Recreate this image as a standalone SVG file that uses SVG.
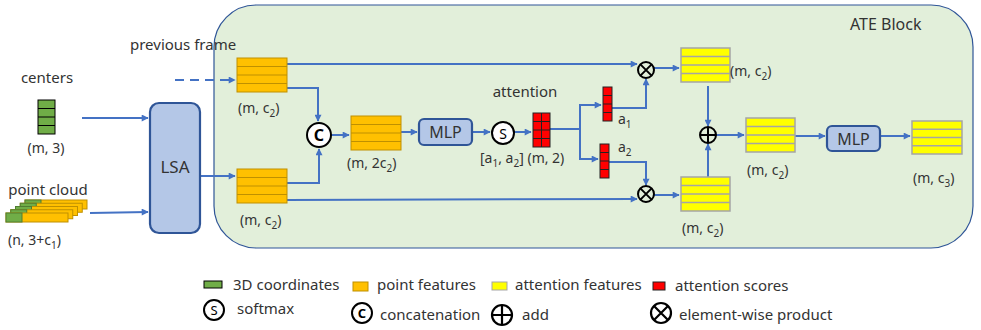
<svg xmlns="http://www.w3.org/2000/svg" xmlns:xlink="http://www.w3.org/1999/xlink" width="981" height="330" viewBox="0 0 981 330">
<style>
text{font-family:"Noto Sans","Liberation Sans",sans-serif;fill:#333;}
.lb{font-size:14px;}
.lg{font-size:15px;}
.sub{font-size:10px;}
.conn{fill:none;stroke:#4472c4;stroke-width:2;}
.box{fill:#b4c7e7;stroke:#2f5597;stroke-width:2.2;}
.op{fill:#fff;stroke:#000;stroke-width:2;}
.ln{stroke-width:1;}
</style>
<defs>
<marker id="ah" viewBox="0 0 10 10" refX="9" refY="5" markerWidth="8" markerHeight="7" markerUnits="userSpaceOnUse" orient="auto">
<path d="M0 0 L10 5 L0 10 z" fill="#4472c4"/>
</marker>
<g id="ob">
<rect x="0" y="0" width="50" height="34" fill="#ffc000" stroke="#bf9000"/>
<path d="M0 8.5H50M0 17H50M0 25.5H50" stroke="#bf9000"/>
</g>
<g id="yb">
<rect x="0" y="0" width="49" height="34" fill="#ffff00" stroke="#a5a5a5" stroke-width="1.5"/>
<path d="M0 8.5H49M0 17H49M0 25.5H49" stroke="#a5a5a5" stroke-width="1.5"/>
</g>
<g id="rc">
<rect x="0" y="0" width="9" height="34" fill="#ff0000" stroke="#222"/>
<path d="M0 8.5H9M0 17H9M0 25.5H9" stroke="#222"/>
</g>
<g id="otimes">
<circle r="8" fill="none" stroke="#000" stroke-width="2"/>
<path d="M-5.6 -5.6L5.6 5.6M5.6 -5.6L-5.6 5.6" stroke="#000" stroke-width="2"/>
</g>
<g id="oplus">
<circle r="8" fill="none" stroke="#000" stroke-width="2"/>
<path d="M-8 0H8M0 -8V8" stroke="#000" stroke-width="2"/>
</g>
<g id="pcbar">
<rect x="0" y="0" width="62" height="9" fill="#ffc000" stroke="#bf9000"/>
<rect x="0" y="0" width="16" height="9" fill="#70ad47" stroke="#507e32"/>
</g>
</defs>

<g id="ate-block">
<rect x="214" y="5" width="759" height="243" rx="42" fill="#e2efda" stroke="#2f5597" stroke-width="1.2"/>
<text x="850" y="30" font-size="16">ATE Block</text>
</g>

<g id="connectors">
<path class="conn" d="M175 80H235" stroke-dasharray="9 6" marker-end="url(#ah)"/>
<path class="conn" d="M82 118H148" marker-end="url(#ah)"/>
<path class="conn" d="M90 213L148 212" marker-end="url(#ah)"/>
<path class="conn" d="M200 176H235" marker-end="url(#ah)"/>
<path class="conn" d="M287 88H318V121" marker-end="url(#ah)"/>
<path class="conn" d="M287 183H319V149" marker-end="url(#ah)"/>
<path class="conn" d="M331 135H349" marker-end="url(#ah)"/>
<path class="conn" d="M400 132H417" marker-end="url(#ah)"/>
<path class="conn" d="M287 64H637" marker-end="url(#ah)"/>
<path class="conn" d="M287 200L637 199" marker-end="url(#ah)"/>
<path class="conn" d="M472 132H490" marker-end="url(#ah)"/>
<path class="conn" d="M514 132H531" marker-end="url(#ah)"/>
<path class="conn" d="M550 129H580V105H601" marker-end="url(#ah)"/>
<path class="conn" d="M580 129V159H598" marker-end="url(#ah)"/>
<path class="conn" d="M612 108H646V79" marker-end="url(#ah)"/>
<path class="conn" d="M609 162H646V185" marker-end="url(#ah)"/>
<path class="conn" d="M654 68H679" marker-end="url(#ah)"/>
<path class="conn" d="M654 195H679" marker-end="url(#ah)"/>
<path class="conn" d="M708 86V126" marker-end="url(#ah)"/>
<path class="conn" d="M708 177V144" marker-end="url(#ah)"/>
<path class="conn" d="M716 135H744" marker-end="url(#ah)"/>
<path class="conn" d="M795 136H825" marker-end="url(#ah)"/>
<path class="conn" d="M880 136H910" marker-end="url(#ah)"/>
</g>

<g id="centers">
<text class="lg" x="47" y="83" text-anchor="middle">centers</text>
<rect x="38" y="100" width="17" height="34" fill="#70ad47" stroke="#000"/>
<path d="M38 108.5H55M38 117H55M38 125.5H55" stroke="#000"/>
<text class="lb" x="46" y="153" text-anchor="middle">(m, 3)</text>
</g>

<g id="point-cloud">
<text class="lg" x="48" y="195" text-anchor="middle">point cloud</text>
<use xlink:href="#pcbar" x="25" y="200"/>
<use xlink:href="#pcbar" x="20.25" y="203.25"/>
<use xlink:href="#pcbar" x="15.5" y="206.5"/>
<use xlink:href="#pcbar" x="10.75" y="209.75"/>
<use xlink:href="#pcbar" x="6" y="213"/>
<text class="lb" x="8" y="245">(n, 3+c<tspan class="sub" dy="4">1</tspan><tspan dy="-4">)</tspan></text>
</g>

<g id="lsa">
<rect class="box" x="150" y="103" width="50" height="130" rx="9"/>
<text x="175" y="173" font-size="17" text-anchor="middle">LSA</text>
</g>

<g id="prev-frame">
<text class="lg" x="130" y="50">previous frame</text>
</g>

<g id="feat-prev">
<use xlink:href="#ob" x="237" y="58"/>
<text class="lb" x="238" y="113">(m, c<tspan class="sub" dy="4">2</tspan><tspan dy="-4">)</tspan></text>
</g>

<g id="feat-cur">
<use xlink:href="#ob" x="237" y="169"/>
<text class="lb" x="240" y="225">(m, c<tspan class="sub" dy="4">2</tspan><tspan dy="-4">)</tspan></text>
</g>

<g id="concat">
<circle class="op" cx="319" cy="135" r="12"/>
<text x="319" y="141" font-size="16" font-weight="bold" text-anchor="middle" style="fill:#000">C</text>
</g>

<g id="feat-concat">
<use xlink:href="#ob" x="351" y="116"/>
<text class="lb" x="347" y="168">(m, 2c<tspan class="sub" dy="4">2</tspan><tspan dy="-4">)</tspan></text>
</g>

<g id="mlp1">
<rect class="box" x="419" y="119" width="53" height="26" rx="5"/>
<text x="445.5" y="138" font-size="16" text-anchor="middle">MLP</text>
</g>

<g id="softmax">
<circle class="op" cx="503" cy="133" r="11"/>
<text x="503" y="138.5" font-size="14" text-anchor="middle" style="fill:#000">S</text>
</g>

<g id="attention">
<text class="lg" x="525" y="97" text-anchor="middle">attention</text>
<rect x="533" y="113" width="17" height="34" fill="#ff0000" stroke="#222"/>
<path d="M541.5 113V147M533 121.5H550M533 130H550M533 138.5H550" stroke="#222"/>
<text class="lb" x="480" y="163">[a<tspan class="sub" dy="4">1</tspan><tspan dy="-4">, a</tspan><tspan class="sub" dy="4">2</tspan><tspan dy="-4">] (m, 2)</tspan></text>
</g>

<g id="a1">
<use xlink:href="#rc" x="603" y="87"/>
<text class="lb" x="618" y="124">a<tspan class="sub" dy="4">1</tspan></text>
</g>

<g id="a2">
<use xlink:href="#rc" x="600" y="144"/>
<text class="lb" x="618" y="152">a<tspan class="sub" dy="4">2</tspan></text>
</g>

<g id="prod1"><use xlink:href="#otimes" x="646" y="70"/></g>
<g id="prod2"><use xlink:href="#otimes" x="646" y="194"/></g>

<g id="att-feat1">
<use xlink:href="#yb" x="681" y="48"/>
<text class="lb" x="730" y="76">(m, c<tspan class="sub" dy="4">2</tspan><tspan dy="-4">)</tspan></text>
</g>

<g id="att-feat2">
<use xlink:href="#yb" x="681" y="177"/>
<text class="lb" x="682" y="233">(m, c<tspan class="sub" dy="4">2</tspan><tspan dy="-4">)</tspan></text>
</g>

<g id="sum"><use xlink:href="#oplus" x="708" y="135"/></g>

<g id="att-feat-sum">
<use xlink:href="#yb" x="746" y="118"/>
<text class="lb" x="747" y="175">(m, c<tspan class="sub" dy="4">2</tspan><tspan dy="-4">)</tspan></text>
</g>

<g id="mlp2">
<rect class="box" x="827" y="126" width="53" height="25" rx="5"/>
<text x="853.5" y="144.5" font-size="16" text-anchor="middle">MLP</text>
</g>

<g id="output">
<rect x="912" y="121" width="50" height="33" fill="#ffff00" stroke="#a5a5a5" stroke-width="1.5"/>
<path d="M912 129.25H962M912 137.5H962M912 145.75H962" stroke="#a5a5a5" stroke-width="1.5"/>
<text class="lb" x="913" y="183">(m, c<tspan class="sub" dy="4">3</tspan><tspan dy="-4">)</tspan></text>
</g>

<g id="legend">
<rect x="204" y="281" width="18" height="7" fill="#70ad47" stroke="#000"/>
<text class="lg" x="233" y="290">3D coordinates</text>
<rect x="353" y="282" width="15" height="9" fill="#ffc000" stroke="#bf9000"/>
<text class="lg" x="377" y="290">point features</text>
<rect x="492" y="282" width="15" height="8" fill="#ffff00" stroke="#a5a5a5"/>
<text class="lg" x="515" y="290">attention features</text>
<rect x="653" y="282" width="12" height="8" fill="#ff0000" stroke="#222"/>
<text class="lg" x="675" y="291">attention scores</text>
<circle class="op" cx="214" cy="310" r="10"/>
<text x="214" y="315" font-size="13" text-anchor="middle" style="fill:#000">S</text>
<text class="lg" x="237" y="314">softmax</text>
<circle class="op" cx="362" cy="313" r="10"/>
<text x="362" y="318" font-size="13" font-weight="bold" text-anchor="middle" style="fill:#000">C</text>
<text class="lg" x="380" y="320">concatenation</text>
<circle cx="502" cy="315" r="10" fill="none" stroke="#000" stroke-width="2.2"/>
<path d="M492 315H512M502 305V325" stroke="#000" stroke-width="2.2"/>
<text class="lg" x="522" y="320">add</text>
<circle cx="661" cy="313" r="10" fill="none" stroke="#000" stroke-width="2.2"/>
<path d="M654 306L668 320M668 306L654 320" stroke="#000" stroke-width="2.2"/>
<text class="lg" x="679" y="320">element-wise product</text>
</g>
</svg>
